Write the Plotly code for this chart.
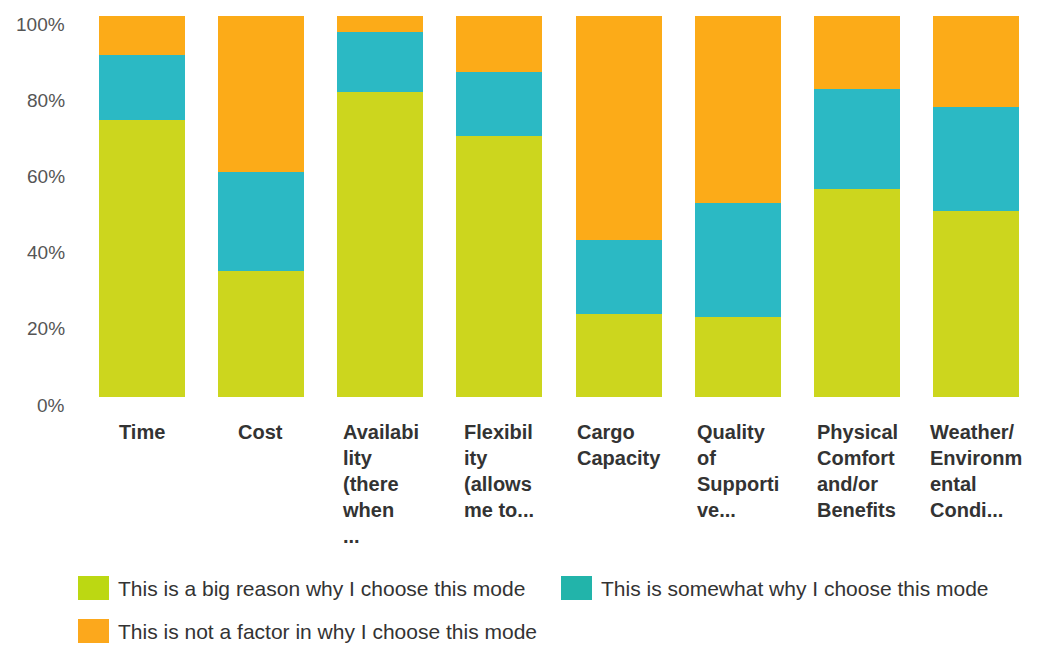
import plotly.graph_objects as go

categories = ["Time", "Cost", "Availability (there when ...", "Flexibility (allows me to...",
              "Cargo Capacity", "Quality of Supportive...", "Physical Comfort and/or Benefits",
              "Weather/Environmental Condi..."]
tick_labels = ["Time", "Cost", "Availabi<br>lity<br>(there<br>when<br>...", "Flexibil<br>ity<br>(allows<br>me to...",
               "Cargo<br>Capacity", "Quality<br>of<br>Supporti<br>ve...", "Physical<br>Comfort<br>and/or<br>Benefits",
               "Weather/<br>Environm<br>ental<br>Condi..."]
series_names = ["This is a big reason why I choose this mode",
                "This is somewhat why I choose this mode",
                "This is not a factor in why I choose this mode"]
big_reason = [72.8, 33.1, 80.1, 68.6, 21.7, 20.9, 54.7, 48.8]
somewhat = [17.0, 26.0, 15.8, 16.8, 19.6, 30.0, 26.2, 27.4]
not_factor = [10.2, 40.9, 4.1, 14.6, 58.7, 49.1, 19.1, 23.8]
y_ticks = [0, 20, 40, 60, 80, 100]
y_tick_text = ["0%", "20%", "40%", "60%", "80%", "100%"]

bar_colors = ["#ccd61e", "#2bb9c4", "#fcab18"]
legend_colors = ["#bcd812", "#22b4aa", "#fca81c"]

W, H = 1039, 648
OFF = 8  # page body margin
# desired plot area in screen pixels: x 82..1036, y 16..397
SL, SR, ST, SB = 82, 1036, 16, 397
L, T = SL - OFF, ST - OFF
R, B = W - (SR - OFF), H - (SB - OFF)
PW, PH = SR - SL, SB - ST


def px_x(p):
    return (p - SL) / PW


def px_y(p):
    return (SB - p) / PH


fig = go.Figure()
for name, vals, col in zip(series_names, [big_reason, somewhat, not_factor], bar_colors):
    fig.add_trace(go.Bar(x=categories, y=vals, name=name, marker_color=col,
                         marker_line_width=0, showlegend=False))

annotations = []
for cat, lab in zip(categories, tick_labels):
    annotations.append(dict(x=cat, xref="x", y=px_y(419), yref="paper", text=lab,
                            showarrow=False, xanchor="center", yanchor="top", align="left",
                            font=dict(family="Liberation Sans", size=20, color="#333333", weight=700)))

for v, t in zip(y_ticks, y_tick_text):
    annotations.append(dict(x=0, xref="paper", y=v, yref="y", text=t, showarrow=False,
                            xanchor="right", yanchor="middle", xshift=-15, yshift=-8,
                            font=dict(family="Liberation Sans", size=19, color="#555555")))

legend_pos = [(78, 588), (561, 588), (78, 631)]
shapes = []
for name, col, (lx, ly) in zip(series_names, legend_colors, legend_pos):
    shapes.append(dict(type="rect", xref="paper", yref="paper",
                       x0=px_x(lx), x1=px_x(lx + 31), y0=px_y(ly - 12), y1=px_y(ly + 12),
                       fillcolor=col, line=dict(width=0)))
    annotations.append(dict(x=px_x(lx + 38), xref="paper", y=px_y(ly), yref="paper", text=name,
                            showarrow=False, xanchor="left", yanchor="middle",
                            font=dict(family="Liberation Sans", size=21, color="#333333")))

fig.update_layout(
    width=W, height=H, barmode="stack", bargap=0.279,
    margin=dict(l=L, r=R, t=T, b=B),
    paper_bgcolor="white", plot_bgcolor="white",
    xaxis=dict(showticklabels=False, showgrid=False, zeroline=False, showline=False, ticks=""),
    yaxis=dict(range=[0, 100], tickvals=y_ticks, showticklabels=False, showgrid=False,
               zeroline=False, showline=False, ticks=""),
    annotations=annotations, shapes=shapes,
)

fig.write_html("out.html")
